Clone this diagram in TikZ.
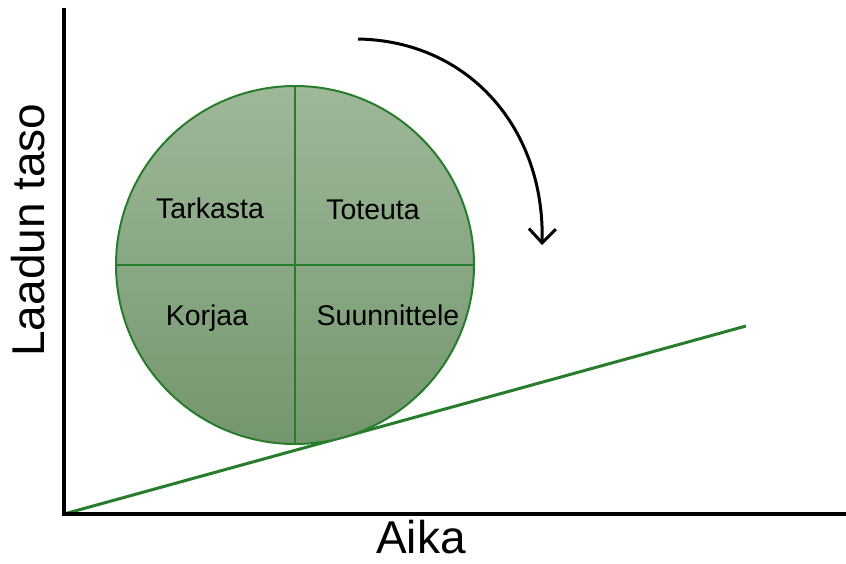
\documentclass[tikz,border=0pt]{standalone}
\usepackage{fontspec}
\setmainfont{Liberation Sans}
\usepackage{xcolor}
\usepackage{tikz}
\usetikzlibrary{arrows.meta}
\definecolor{linegreen}{RGB}{40,125,45}
\definecolor{wheeltop}{RGB}{158,184,154}
\definecolor{wheelbottom}{RGB}{116,150,110}
\tikzset{
  wheel/.style={circle, draw=linegreen, line width=2pt, top color=wheeltop, bottom color=wheelbottom, minimum size=358pt, inner sep=0pt},
  split/.style={draw=linegreen, line width=2.5pt},
  phase/.style={font=\fontsize{28.5}{30}\selectfont, anchor=base, inner sep=0pt},
  axis/.style={draw=black, line width=3.5pt, line cap=rect},
  axlbl/.style={font=\fontsize{46}{50}\selectfont, inner sep=0pt},
  ramp/.style={draw=linegreen, line width=3pt},
  turn/.style={-{Straight Barb[length=14pt, width=27pt, line width=3pt]}, line width=3pt},
}

\begin{document}
\begin{tikzpicture}[x=1pt, y=-1pt]
\useasboundingbox (0,0) rectangle (846,563);
\coordinate (origin) at (64,514);
\coordinate (ytop) at (64,10);
\coordinate (xend) at (846,514);
\coordinate (rampend) at (746,326);
\coordinate (turnstart) at (358,39);
\coordinate (turnend) at (542,245);
\draw[ramp] (origin) -- (rampend);
\node[wheel] (wh) at (295,265) {};
\draw[split] (wh.north) -- (wh.south);
\draw[split] (wh.west) -- (wh.east);
\node[phase] (tarkasta) at (210,218) {Tarkasta};
\node[phase] (toteuta) at (373,219) {Toteuta};
\node[phase] (korjaa) at (207,325) {Korjaa};
\node[phase] (suunnittele) at (388,325) {Suunnittele};
\draw[axis] (ytop) -- (origin) -- (xend);
\node[axlbl, anchor=base] (aika) at (421,553) {Aika};
\node[axlbl, rotate=90] (laatu) at (28,230) {Laadun taso};
\draw[turn] (turnstart) .. controls (470,41) and (545,130) .. (turnend);
\end{tikzpicture}
\end{document}
